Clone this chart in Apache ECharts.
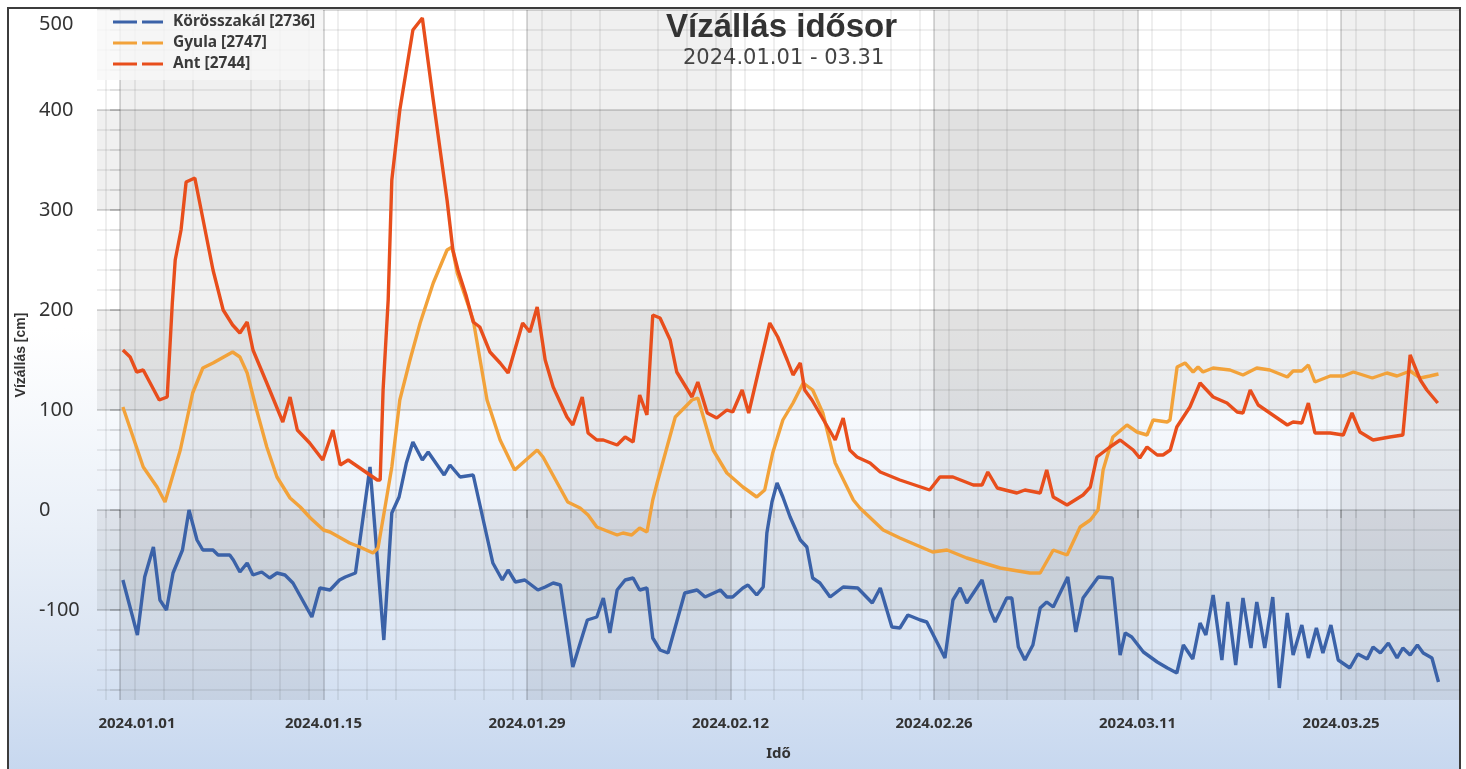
<!DOCTYPE html>
<html lang="hu">
<head>
<meta charset="UTF-8">
<title>Vízállás idősor</title>
<script src="https://cdn.jsdelivr.net/npm/echarts@6/dist/echarts.min.js"></script>
<style>
    html, body { margin: 0; padding: 0; background: #fff; }
    #main { width: 1466px; height: 769px; }
</style>
</head>
<body>
<div id="main"></div>
<script>
// [nap 2024.01.01-tol, vizallas cm]
var korosszakal = [[0.2,-70],[1.2,-125],[1.7,-67],[2.3,-37],[2.75,-90],[3.2,-100],[3.65,-63],[4.3,-40],[4.75,0],[5.3,-30],[5.7,-40],[6.4,-40],[6.75,-45],[7.55,-45],[7.8,-50],[8.25,-62],[8.75,-53],[9.15,-65],[9.75,-62],[10.3,-68],[10.8,-63],[11.35,-65],[11.9,-73],[13.2,-107],[13.75,-78],[14.45,-80],[15.1,-70],[15.5,-67],[16.2,-63],[17.2,43],[18.15,-130],[18.7,-3],[19.2,13],[19.7,47],[20.15,68],[20.8,50],[21.2,58],[22.3,35],[22.7,45],[23.4,33],[24.3,35],[25.65,-53],[26.3,-70],[26.7,-60],[27.2,-72],[27.85,-70],[28.75,-80],[29.25,-77],[29.8,-73],[30.3,-75],[31.15,-157],[32.15,-110],[32.8,-107],[33.25,-88],[33.7,-123],[34.2,-80],[34.75,-70],[35.3,-68],[35.75,-80],[36.25,-78],[36.65,-128],[37.15,-140],[37.7,-143],[38.2,-117],[38.85,-83],[39.7,-80],[40.25,-87],[41.3,-80],[41.75,-87],[42.15,-87],[42.85,-78],[43.2,-75],[43.8,-85],[44.25,-77],[44.5,-23],[44.85,8],[45.2,27],[45.6,13],[46.1,-7],[46.8,-30],[47.25,-37],[47.65,-68],[48.15,-73],[48.85,-87],[49.75,-77],[50.75,-78],[51.75,-93],[52.3,-78],[53.1,-117],[53.65,-118],[54.2,-105],[55.05,-110],[55.5,-112],[56.75,-148],[57.3,-90],[57.8,-78],[58.25,-93],[59.3,-70],[59.85,-100],[60.2,-112],[61.0,-88],[61.35,-88],[61.8,-137],[62.25,-150],[62.8,-135],[63.3,-98],[63.75,-92],[64.2,-97],[65.2,-67],[65.75,-122],[66.25,-88],[67.3,-67],[68.25,-68],[68.8,-145],[69.15,-123],[69.6,-127],[70.4,-142],[71.35,-152],[72.05,-158],[72.7,-163],[73.15,-135],[73.8,-149],[74.3,-113],[74.7,-125],[75.2,-85],[75.8,-150],[76.2,-92],[76.75,-155],[77.25,-88],[77.8,-138],[78.2,-92],[78.75,-138],[79.3,-87],[79.75,-178],[80.3,-103],[80.7,-145],[81.3,-115],[81.75,-148],[82.3,-118],[82.75,-143],[83.3,-115],[83.8,-150],[84.6,-158],[85.15,-144],[85.8,-149],[86.2,-137],[86.7,-143],[87.25,-133],[87.85,-148],[88.25,-138],[88.75,-145],[89.25,-135],[89.65,-143],[90.25,-148],[90.7,-172]];

var gyula = [[0.2,103],[0.9,73],[1.6,43],[2.55,23],[3.1,8],[4.15,60],[5.0,117],[5.7,142],[6.4,147],[7.75,158],[8.25,153],[8.75,137],[9.4,100],[10.1,63],[10.8,33],[11.7,12],[12.4,3],[13.1,-8],[14.0,-20],[14.45,-22],[15.8,-33],[16.5,-37],[17.4,-43],[17.75,-38],[18.2,0],[18.7,43],[19.25,110],[19.95,150],[20.65,187],[21.55,227],[22.5,260],[22.85,263],[23.2,237],[24.3,190],[25.25,110],[26.15,70],[27.15,40],[28.7,60],[29.1,53],[30.8,8],[31.65,2],[32.2,-5],[32.8,-17],[34.2,-25],[34.6,-23],[35.2,-25],[35.75,-18],[36.25,-22],[36.65,10],[36.95,27],[38.2,93],[39.35,110],[39.75,112],[40.8,60],[41.75,37],[42.85,23],[43.8,13],[44.35,20],[44.9,57],[45.6,90],[46.3,107],[47.0,127],[47.65,120],[48.35,97],[49.2,47],[50.45,10],[50.9,2],[52.5,-20],[53.65,-28],[55.9,-42],[56.9,-40],[58.25,-48],[60.55,-58],[62.6,-63],[63.3,-63],[64.2,-40],[65.15,-45],[66.05,-17],[66.75,-10],[67.28,0],[67.63,40],[68.3,73],[69.27,85],[69.96,78],[70.65,75],[71.07,90],[72.03,88],[72.23,90],[72.72,143],[73.27,147],[73.82,138],[74.16,143],[74.5,138],[75.19,142],[76.36,140],[77.25,135],[78.2,142],[79.1,140],[80.3,133],[80.7,139],[81.3,139],[81.75,145],[82.2,128],[83.25,134],[84.15,134],[84.85,138],[86.15,132],[87.15,137],[87.85,134],[88.75,139],[89.45,132],[90.1,134],[90.7,136]];

var ant = [[0.2,160],[0.7,153],[1.15,138],[1.6,140],[2.7,110],[3.25,113],[3.6,207],[3.8,250],[4.2,280],[4.55,328],[5.15,332],[6.4,240],[7.1,200],[7.75,185],[8.25,177],[8.75,188],[9.15,160],[10.1,127],[11.2,88],[11.7,113],[12.2,80],[13.05,67],[13.95,50],[14.65,80],[15.15,45],[15.7,50],[17.2,35],[17.7,30],[17.9,30],[18.1,120],[18.45,210],[18.7,330],[19.25,400],[20.15,480],[20.8,492],[21.55,410],[22.5,310],[22.9,260],[23.25,240],[23.8,215],[24.3,188],[24.75,183],[25.45,158],[26.15,147],[26.7,137],[27.7,187],[28.2,178],[28.7,203],[29.25,150],[29.8,123],[30.75,93],[31.15,85],[31.8,113],[32.2,77],[32.8,70],[33.25,70],[34.2,65],[34.75,73],[35.3,68],[35.75,115],[36.25,95],[36.65,195],[37.15,192],[37.85,170],[38.3,138],[39.35,113],[39.75,128],[40.4,97],[41.05,92],[41.75,100],[42.15,98],[42.8,120],[43.25,97],[44.7,187],[45.25,173],[45.9,150],[46.3,135],[46.8,147],[47.1,120],[47.6,110],[49.2,70],[49.75,92],[50.2,60],[50.7,53],[51.6,47],[52.3,38],[53.65,30],[55.7,20],[56.4,33],[57.3,33],[58.7,25],[59.3,25],[59.7,38],[60.35,22],[61.7,17],[62.25,20],[63.3,17],[63.75,40],[64.2,13],[65.15,5],[66.25,15],[66.75,23],[67.2,53],[68.1,63],[68.8,70],[69.7,60],[70.15,52],[70.65,63],[71.35,55],[71.75,55],[72.25,60],[72.7,83],[73.6,103],[74.3,127],[75.2,113],[76.15,107],[76.85,98],[77.25,97],[77.75,120],[78.3,105],[79.1,97],[80.3,85],[80.7,88],[81.3,87],[81.75,107],[82.2,77],[83.25,77],[84.15,75],[84.75,97],[85.3,78],[86.2,70],[87.35,73],[88.25,75],[88.75,155],[89.45,130],[89.9,120],[90.65,107]];

var seriesNames = ['Körösszakál [2736]', 'Gyula [2747]', 'Ant [2744]'];
var seriesColors = ['#3b62a8', '#f2a23a', '#e84e1c'];
var tickDays = [0, 14, 28, 42, 56, 70, 84];
var tickLabels = ['2024.01.01', '2024.01.15', '2024.01.29', '2024.02.12', '2024.02.26', '2024.03.11', '2024.03.25'];
var yTicks = [-100, 0, 100, 200, 300, 400, 500];

var xMin = -1.58, xMax = 92.18, yMin = -190, yMax = 500;

// segedvonalak: paratlan napok, a ket hetes szakasz kozepe nelkul; y: 20 cm-enkent
var xMinor = [];
for (var b = -14; b <= 84; b += 14) {
    [1, 3, 5, 9, 11, 13].forEach(function (o) {
        var v = b + o;
        if (v > xMin && v < xMax) xMinor.push(v);
    });
}
var yMinor = [];
for (var v = -180; v < yMax; v += 20) {
    if (v % 100 !== 0) yMinor.push(v);
}

// sakktabla savok
var bands = [];
for (var i = 0; i < tickDays.length; i += 2) {
    bands.push([{ xAxis: tickDays[i] }, { xAxis: i + 1 < tickDays.length ? tickDays[i + 1] : xMax }]);
}
for (var j = 0; j + 1 < yTicks.length; j += 2) {
    bands.push([{ yAxis: yTicks[j] }, { yAxis: yTicks[j + 1] }]);
}

var majorColor = 'rgba(0,0,0,0.2)';
var minorColor = 'rgba(0,0,0,0.085)';
var font = 'Noto Sans';

function lineSeries(k, data, z) {
    return {
        name: seriesNames[k],
        type: 'line',
        data: data,
        showSymbol: false,
        z: z,
        itemStyle: { color: seriesColors[k] },
        lineStyle: { width: 3.4, color: seriesColors[k] }
    };
}

var myChart = echarts.init(document.getElementById('main'));

var option = {
    backgroundColor: '#ffffff',
    animation: false,
    graphic: {
        elements: [{
            type: 'rect',
            z: -100,
            silent: true,
            shape: { x: 8, y: 8, width: 1452, height: 800 },
            style: {
                fill: new echarts.graphic.LinearGradient(0, 0, 0, 1, [
                    { offset: 0, color: '#ffffff' },
                    { offset: 0.4, color: '#ffffff' },
                    { offset: 0.65, color: '#eaf0f8' },
                    { offset: 0.8, color: '#dbe5f3' },
                    { offset: 0.96, color: '#c6d7ef' }
                ]),
                stroke: '#3c3c3c',
                lineWidth: 2
            }
        }]
    },
    title: [{
        text: 'Vízállás idősor',
        left: 666,
        top: 11,
        padding: 0,
        textStyle: { fontFamily: 'Liberation Sans', fontSize: 33, fontWeight: 'bold', color: '#333' }
    }, {
        text: '2024.01.01 - 03.31',
        left: 683,
        top: 48,
        padding: 0,
        textStyle: { fontFamily: 'DejaVu Sans', fontSize: 21, fontWeight: 'normal', color: '#444' }
    }],
    legend: {
        data: seriesNames,
        orient: 'vertical',
        left: 97,
        top: 10,
        padding: [4, 8, 8, 16],
        itemGap: 5,
        itemWidth: 50,
        itemHeight: 14,
        icon: 'path://M0,0h0.05v0.05h-0.05Z M0,13.95h0.05v0.05h-0.05Z M0,5.5H24V8.5H0Z M29,5.5H50V8.5H29Z',
        itemStyle: { borderWidth: 0 },
        backgroundColor: 'rgba(247,247,247,0.8)',
        textStyle: { fontFamily: font, fontSize: 15.5, fontWeight: 'bold', color: '#3a3a3a', padding: [0, 0, 0, 5] }
    },
    grid: {
        left: 97,
        right: 6,
        top: 10,
        bottom: 69,
        containLabel: false,
        outerBoundsMode: 'none'
    },
    xAxis: [{
        type: 'value',
        position: 'bottom',
        min: xMin,
        max: xMax,
        name: 'Idő',
        nameLocation: 'middle',
        nameGap: 46,
        nameTextStyle: { fontFamily: font, fontSize: 15, fontWeight: 'bold', color: '#333' },
        axisLine: { show: false },
        axisTick: { show: true, customValues: tickDays, length: 8, lineStyle: { color: majorColor, width: 1.5 } },
        splitLine: { show: true, lineStyle: { color: majorColor, width: 1.5 } },
        axisLabel: {
            customValues: tickDays,
            margin: 16,
            fontFamily: font,
            fontSize: 15,
            fontWeight: 'bold',
            color: '#333',
            formatter: function (val) {
                var k = tickDays.indexOf(Math.round(val));
                var s = k >= 0 ? tickLabels[k] : '';
                return k === 0 ? '{first|' + s + '}' : s;
            },
            rich: {
                first: { fontFamily: font, fontSize: 15, fontWeight: 'bold', color: '#333', padding: [0, 0, 0, 34] }
            }
        }
    }, {
        type: 'value',
        position: 'bottom',
        min: xMin,
        max: xMax,
        axisLine: { show: false },
        axisLabel: { show: false },
        axisTick: { show: true, customValues: xMinor, length: 8, lineStyle: { color: minorColor, width: 1.5 } },
        splitLine: { show: true, lineStyle: { color: minorColor, width: 1.5 } }
    }],
    yAxis: [{
        type: 'value',
        position: 'left',
        min: yMin,
        max: yMax,
        name: 'Vízállás [cm]',
        nameLocation: 'middle',
        nameGap: 65,
        nameRotate: 90,
        nameTextStyle: { fontFamily: 'Liberation Sans', fontSize: 14, fontWeight: 'bold', color: '#333' },
        axisLine: { show: false },
        axisTick: { show: true, customValues: yTicks, length: 10, lineStyle: { color: majorColor, width: 1.5 } },
        splitLine: { show: true, lineStyle: { color: majorColor, width: 1.5 } },
        axisLabel: {
            customValues: yTicks,
            align: 'left',
            margin: 58,
            fontFamily: font,
            fontSize: 20,
            color: '#333',
            formatter: function (val) {
                return val === yMax ? '{top|' + val + '}' : String(val);
            },
            rich: {
                top: { fontFamily: font, fontSize: 20, color: '#333', padding: [28, 0, 0, 0] }
            }
        }
    }, {
        type: 'value',
        position: 'left',
        min: yMin,
        max: yMax,
        axisLine: { show: false },
        axisLabel: { show: false },
        axisTick: { show: true, customValues: yMinor, length: 10, lineStyle: { color: minorColor, width: 1.5 } },
        splitLine: { show: true, lineStyle: { color: minorColor, width: 1.5 } }
    }],
    series: [{
        name: 'bands',
        type: 'line',
        data: [],
        silent: true,
        z: 1,
        markArea: {
            silent: true,
            itemStyle: { color: 'rgba(0,0,0,0.06)' },
            data: bands
        }
    },
        lineSeries(0, korosszakal, 3),
        lineSeries(1, gyula, 3),
        lineSeries(2, ant, 4)
    ]
};

myChart.setOption(option);
</script>
</body>
</html>
